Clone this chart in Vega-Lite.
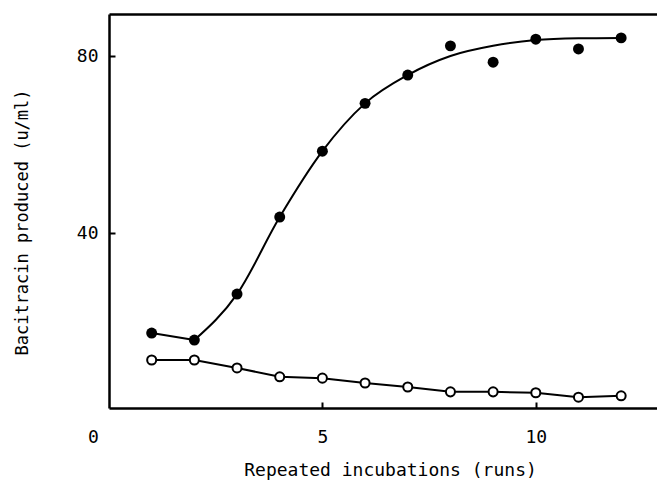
{
  "$schema": "https://vega.github.io/schema/vega-lite/v6.json",
  "width": 548,
  "height": 394,
  "autosize": "none",
  "padding": {"left": 109, "top": 14, "right": 0, "bottom": 77},
  "background": "white",
  "config": {
    "view": {"stroke": null},
    "font": "DejaVu Sans Mono",
    "axis": {
      "domainColor": "black",
      "domainWidth": 2.5,
      "tickColor": "black",
      "tickWidth": 2,
      "tickSize": -6,
      "grid": false,
      "labelColor": "black",
      "labelFont": "DejaVu Sans Mono",
      "labelFontSize": 18,
      "titleColor": "black",
      "titleFont": "DejaVu Sans Mono",
      "titleFontWeight": "normal"
    }
  },
  "datasets": {
    "filled": [
      {"run": 1, "bacitracin": 17.4},
      {"run": 2, "bacitracin": 15.8},
      {"run": 3, "bacitracin": 26.2},
      {"run": 4, "bacitracin": 43.6},
      {"run": 5, "bacitracin": 58.5},
      {"run": 6, "bacitracin": 69.3},
      {"run": 7, "bacitracin": 75.7},
      {"run": 8, "bacitracin": 82.3},
      {"run": 9, "bacitracin": 78.6},
      {"run": 10, "bacitracin": 83.8},
      {"run": 11, "bacitracin": 81.6},
      {"run": 12, "bacitracin": 84.1}
    ],
    "segment": [
      {"run": 1, "bacitracin": 17.4},
      {"run": 2, "bacitracin": 15.8}
    ],
    "curve": [
      {"run": 2, "bacitracin": 15.8},
      {"run": 3, "bacitracin": 26.2},
      {"run": 4, "bacitracin": 43.6},
      {"run": 5, "bacitracin": 58.5},
      {"run": 6, "bacitracin": 69.3},
      {"run": 7, "bacitracin": 75.7},
      {"run": 8, "bacitracin": 80.0},
      {"run": 9, "bacitracin": 82.3},
      {"run": 10, "bacitracin": 83.6},
      {"run": 11, "bacitracin": 84.0},
      {"run": 12, "bacitracin": 84.1}
    ],
    "open": [
      {"run": 1, "bacitracin": 11.3},
      {"run": 2, "bacitracin": 11.3},
      {"run": 3, "bacitracin": 9.5},
      {"run": 4, "bacitracin": 7.5},
      {"run": 5, "bacitracin": 7.2},
      {"run": 6, "bacitracin": 6.1},
      {"run": 7, "bacitracin": 5.2},
      {"run": 8, "bacitracin": 4.1},
      {"run": 9, "bacitracin": 4.1},
      {"run": 10, "bacitracin": 3.9},
      {"run": 11, "bacitracin": 2.9},
      {"run": 12, "bacitracin": 3.2}
    ]
  },
  "layer": [
    {
      "data": {"name": "open"},
      "mark": {"type": "line", "color": "black", "strokeWidth": 2},
      "encoding": {
        "x": {
          "field": "run", "type": "quantitative",
          "scale": {"domain": [0, 12.84], "nice": false, "zero": false},
          "axis": {
            "orient": "bottom",
            "values": [0, 5, 10],
            "format": "d",
            "labelFlush": false,
            "labelPadding": 26,
            "labelOffset": {"condition": {"test": "datum.value == 0", "value": -16}, "value": 0},
            "tickOpacity": {"condition": {"test": "datum.value == 0", "value": 0}, "value": 1},
            "title": "Repeated incubations (runs)",
            "titleFontSize": 18,
            "titleX": 281,
            "titleY": 67,
            "titleBaseline": "alphabetic",
            "titleAlign": "center",
            "titleAnchor": null
          }
        },
        "y": {
          "field": "bacitracin", "type": "quantitative",
          "scale": {"domain": [0.45, 89.5], "nice": false, "zero": false},
          "axis": {
            "values": [40, 80],
            "format": "d",
            "labelPadding": 17,
            "title": "Bacitracin produced (u/ml)",
            "titleFontSize": 17,
            "titleX": -82,
            "titleY": 208,
            "titleAngle": -90,
            "titleBaseline": "alphabetic",
            "titleAlign": "center",
            "titleAnchor": null
          }
        }
      }
    },
    {
      "data": {"name": "segment"},
      "mark": {"type": "line", "color": "black", "strokeWidth": 2},
      "encoding": {
        "x": {"field": "run", "type": "quantitative", "axis": null},
        "y": {"field": "bacitracin", "type": "quantitative"}
      }
    },
    {
      "data": {"name": "curve"},
      "mark": {"type": "line", "color": "black", "strokeWidth": 2, "interpolate": "monotone"},
      "encoding": {
        "x": {"field": "run", "type": "quantitative", "axis": null},
        "y": {"field": "bacitracin", "type": "quantitative"}
      }
    },
    {
      "data": {"name": "open"},
      "mark": {"type": "point", "shape": "circle", "filled": true, "fill": "white", "stroke": "black", "strokeWidth": 2, "size": 82, "opacity": 1},
      "encoding": {
        "x": {"field": "run", "type": "quantitative", "axis": null},
        "y": {"field": "bacitracin", "type": "quantitative"}
      }
    },
    {
      "data": {"name": "filled"},
      "mark": {"type": "point", "shape": "circle", "filled": true, "color": "black", "size": 120, "opacity": 1},
      "encoding": {
        "x": {"field": "run", "type": "quantitative", "axis": null},
        "y": {"field": "bacitracin", "type": "quantitative"}
      }
    },
    {
      "data": {"name": "open"},
      "mark": {"type": "point", "opacity": 0},
      "encoding": {
        "x": {
          "field": "run", "type": "quantitative",
          "axis": {"orient": "top", "ticks": false, "labels": false, "title": null}
        },
        "y": {"field": "bacitracin", "type": "quantitative"}
      }
    }
  ],
  "resolve": {"axis": {"x": "independent"}}
}
